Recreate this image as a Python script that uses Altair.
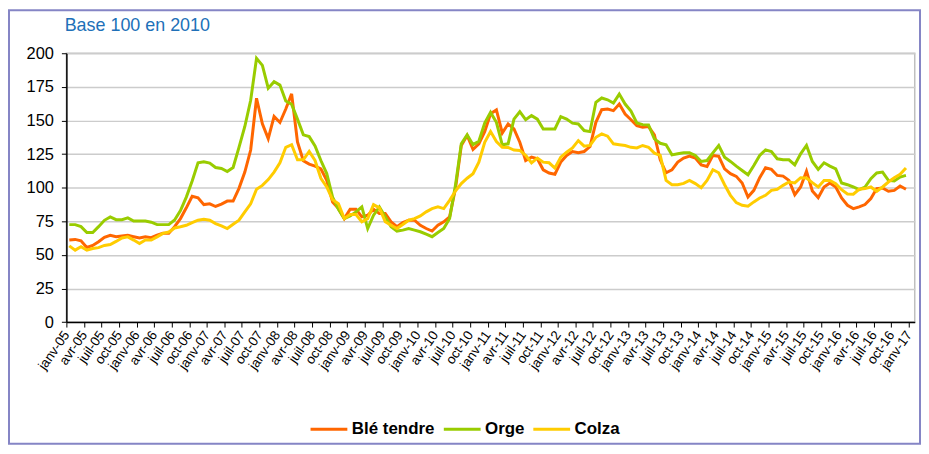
import json
import altair as alt
import pandas as pd

# ---- data (monthly, janv-05 .. déc-16), base 100 en 2010 ----
series = ["Blé tendre", "Orge", "Colza"]
couleurs = ["#FF6600", "#99CC00", "#FFCC00"]

ble_tendre = [
    61, 61.5, 60.5, 55.5, 57, 59.8, 63, 64.5, 63.5, 64, 64.5, 63.5,
    62.5, 63.5, 62.8, 64.7, 66, 66, 71, 77, 85, 93.6, 92.5, 87.4,
    88, 86, 87.8, 90, 90, 99.5, 111.6, 128, 166.5, 147.5, 136.5, 153,
    148.5, 158.5, 169.8, 134, 120, 117.5, 116, 114, 105.4, 89.4, 84.4, 77,
    84, 84, 78.3, 79.5, 84, 80.7, 80.7, 74.6, 71, 74, 75.8, 75.8,
    72, 69.6, 67.7, 72, 74.6, 78.3, 99.3, 131.4, 138.8, 128.4, 132.6, 141.7,
    155, 157.8, 140.7, 147.4, 143.7, 133.8, 120.2, 122.7, 121.5, 113.3, 110.9, 110,
    119, 124, 126.9, 126, 126.9, 130.6, 148.6, 158, 158.5, 157.3, 162.2, 154.8,
    150.5, 146.2, 144.9, 145.4, 139.3, 120.7, 111.1, 113.3, 119, 122, 123.5, 122,
    117, 115.8, 124, 123.3, 114, 110.4, 108.4, 103.5, 93, 98, 107.4, 114.8,
    113.6, 109.1, 108.6, 105.4, 94.8, 100.5, 112.3, 97.5, 92.6, 100.5, 103.5, 100.5,
    92.3, 86.9, 84.4, 85.7, 87.4, 91.9, 99.3, 99.8, 97.3, 98, 101.2, 98.8,
]
orge = [
    72.5, 72.5, 71, 66.6, 66.6, 71, 75.7, 78.2, 76.2, 76.2, 77.5, 75.2,
    75.2, 75.2, 74.3, 72.5, 72.5, 72.5, 76, 83, 93, 105, 118.5, 119.3,
    118.3, 115, 114.3, 112, 115, 130, 145.5, 165, 196.3, 191, 174, 178.8,
    176.3, 164.5, 162, 151, 139.3, 138, 131, 120.2, 110.5, 93, 84, 77,
    79, 82, 85.7, 69.6, 79.5, 85.7, 78.3, 70.9, 67.7, 68.4, 69.6, 68.4,
    67.2, 65.4, 63.5, 66.7, 69.6, 77, 101.7, 132.6, 139.3, 132, 134.6, 148,
    156, 148.6, 131.9, 132.6, 151, 156.5, 150.6, 153.6, 151, 143.7, 143.7, 143.7,
    152.8, 151, 148, 147.4, 142.5, 141.7, 163.5, 166.7, 165.4, 163, 169.6, 162.2,
    157, 148.1, 146.9, 146.7, 136.3, 133, 131.9, 124.4, 125.2, 125.9, 125.9, 124,
    119.5, 120.2, 125.9, 131.4, 122.7, 119.5, 116, 112.8, 109.6, 116.5, 124, 128.1,
    126.9, 121.5, 120.7, 120.7, 117, 125.2, 131.4, 119.5, 113.6, 118.5, 116, 114,
    103.5, 102.2, 100.5, 98.5, 100.5, 106.7, 110.9, 111.6, 105.4, 105, 107.9, 109.1,
]
colza = [
    56.7, 53.5, 56, 53.5, 54.7, 55.4, 57, 57.7, 60, 62.6, 63.4, 61,
    58.4, 61, 61, 63.4, 66, 67, 70, 70.9, 72, 74, 75.8, 76.5,
    75.8, 73.3, 71.6, 69.6, 72.8, 75.8, 82, 88, 98.8, 101.7, 106, 111.6,
    118.5, 130, 132, 120.7, 120.7, 127, 120.2, 107, 100.5, 91, 88, 77,
    80, 80, 74.6, 77, 87.4, 85, 74.6, 72, 69.6, 72.6, 75.8, 77,
    79, 82, 84.4, 85.7, 84.4, 90.6, 97.5, 103, 107, 110.4, 119, 133.8,
    141.7, 134.3, 130.1, 129.9, 128, 127.7, 124, 118.5, 122, 119, 118.5, 114.6,
    122.7, 126.4, 129.6, 135, 130.9, 131.4, 137.5, 140, 138.3, 132.6, 132, 131.4,
    130, 129.6, 131.4, 130.1, 125.7, 124, 105.4, 102.2, 102.2, 103.2, 105.4, 103,
    100, 105.4, 113.3, 111.1, 102.2, 94.3, 88.9, 86.9, 86.2, 89.4, 92.3, 94.3,
    98, 98.8, 101.7, 104.2, 103.5, 107.4, 107.2, 103.7, 100.5, 105.4, 105.4, 103,
    98.5, 95.3, 95.1, 98.8, 99.3, 100.5, 97.3, 100.5, 104.2, 107.4, 109.9, 114.6,
]

mois = ["janv", "avr", "juil", "oct"]
annees = list(range(5, 18))
tick_labels = [f"{mois[q]}-{a:02d}" for a in annees for q in range(4)][:49]
y_ticks = list(range(0, 201, 25))
n_categories = 145

rows = []
for name, vals in zip(series, [ble_tendre, orge, colza]):
    for i, v in enumerate(vals):
        rows.append({"serie": name, "pos": i + 0.5, "val": v})
df = pd.DataFrame(rows)

font = "Liberation Sans"

lines = alt.Chart(df).mark_line(strokeWidth=3).encode(
    x=alt.X(
        "pos:Q",
        scale=alt.Scale(domain=[0, n_categories], nice=False, zero=False),
        axis=alt.Axis(
            values=list(range(0, 145, 3)),
            labelExpr=json.dumps(tick_labels) + "[round(datum.value/3)]",
            title=None, grid=False, labelAngle=305, labelAlign="right",
            labelBaseline="middle", labelFontSize=13.5, labelFont=font,
            labelColor="black", labelPadding=5, labelOverlap=False,
            labelFlush=False, labelBound=False, tickSize=5, tickColor="black",
            domainColor="black", domainWidth=1.5,
        ),
    ),
    y=alt.Y(
        "val:Q",
        scale=alt.Scale(domain=[0, 200], nice=False, zero=True),
        axis=alt.Axis(
            values=y_ticks, title=None, grid=True, gridColor="#cccccc",
            gridWidth=1.5, labelFontSize=16.5, labelFont=font, labelColor="black",
            labelPadding=8, tickSize=5, tickColor="black", domainColor="black",
            domainWidth=1.5,
        ),
    ),
    color=alt.Color(
        "serie:N",
        scale=alt.Scale(domain=series, range=couleurs),
        legend=alt.Legend(
            title=None, orient="none", direction="horizontal",
            legendX=244, legendY=358, symbolType="stroke", symbolSize=1369,
            symbolStrokeWidth=3, labelFontSize=17, labelFontWeight="bold",
            labelFont=font, labelColor="black", columnPadding=2, labelOffset=3,
            padding=0,
        ),
    ),
)

title_df = pd.DataFrame({"t": ["Base 100 en 2010"]})
title = alt.Chart(title_df).mark_text(
    align="left", baseline="middle", fontSize=18, font=font, color="#2070B8"
).encode(text="t:N", x=alt.value(-1.7), y=alt.value(-27.3))

frame_df = pd.DataFrame({"a": [0]})
frame = alt.Chart(frame_df).mark_rect(
    filled=False, stroke="#8585c5", strokeWidth=2
).encode(x=alt.value(-57.7), x2=alt.value(858.3), y=alt.value(-43.3), y2=alt.value(392.7))

chart = alt.layer(frame, title, lines).properties(
    width=853, height=270.3, autosize="none",
    padding={"left": 58.7, "top": 44.3, "right": 6.3, "bottom": 123.4},
    background="white",
).configure_view(stroke="#bfbfbf", strokeWidth=1.5)

chart.save("out.html", embed_options={"renderer": "svg", "actions": False})
